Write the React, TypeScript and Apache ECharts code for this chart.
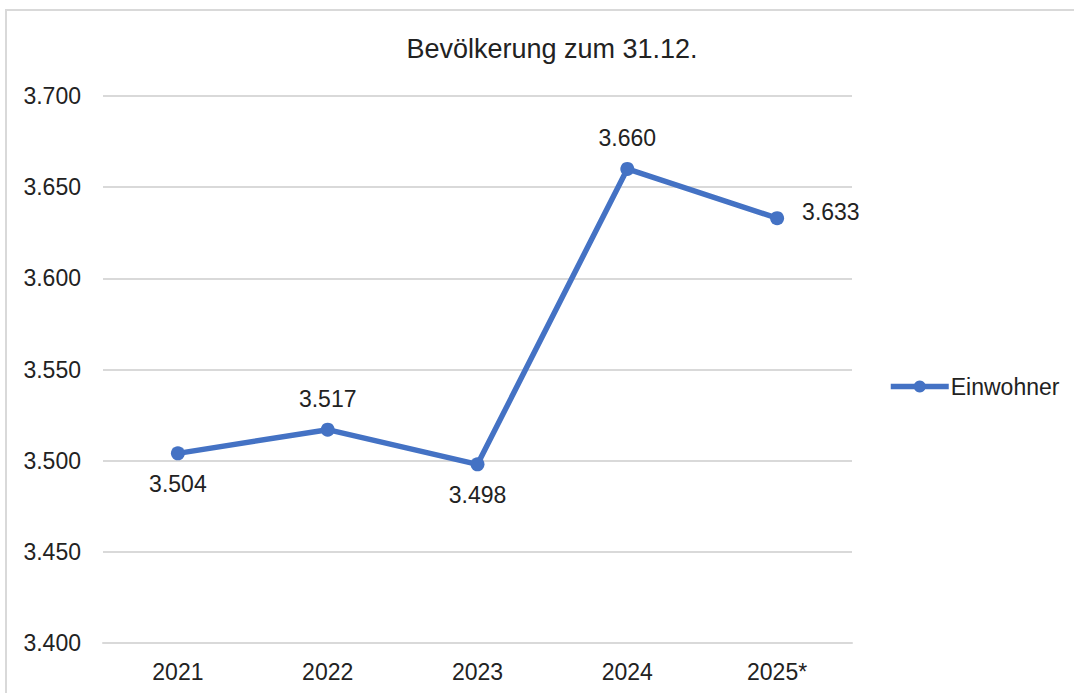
import React, { useEffect, useRef } from "react";
import * as echarts from "echarts";

const categories = ["2021", "2022", "2023", "2024", "2025*"];
const einwohner = [3504, 3517, 3498, 3660, 3633];
const labelPositions = ["bottom", "top", "bottom", "top", "right"];
const yMin = 3400;
const yMax = 3700;
const yInterval = 50;

const fmt = (v: number) => {
  const s = String(Math.round(v));
  return s.replace(/\B(?=(\d{3})+(?!\d))/g, ".");
};

export default function App() {
  const ref = useRef<HTMLDivElement>(null);
  useEffect(() => {
    if (!ref.current) return;
    const chart = echarts.init(ref.current, null, { renderer: "svg" });
    const font = "'Liberation Sans', Arial, sans-serif";
    const textColor = "#222222";
    chart.setOption({
      animation: false,
      backgroundColor: "#ffffff",
      textStyle: { fontFamily: font },
      title: {
        text: "Bevölkerung zum 31.12.",
        left: 547,
        top: 30,
        textAlign: "center",
        textStyle: { fontFamily: font, fontSize: 27, fontWeight: "normal", color: textColor },
      },
      graphic: [
        {
          type: "rect",
          shape: { x: 6, y: 10, width: 1200, height: 800 },
          style: { fill: "none", stroke: "#d9d9d9", lineWidth: 2 },
          silent: true,
        },
      ],
      legend: {
        left: 883,
        top: 370,
        itemWidth: 58,
        itemHeight: 15,
        itemGap: 4,
        itemStyle: { color: "#4472C4" },
        lineStyle: { color: "#4472C4", width: 5.5 },
        textStyle: { fontFamily: font, fontSize: 23, color: textColor, padding: [0, 0, 0, -3] },
        data: ["Einwohner"],
      },
      grid: { left: 103, right: 222, top: 96, bottom: 50, containLabel: false },
      xAxis: {
        type: "category",
        data: categories,
        boundaryGap: true,
        axisLine: { show: true, lineStyle: { color: "#d9d9d9", width: 2 } },
        axisTick: { show: false },
        axisLabel: { fontFamily: font, fontSize: 23, color: textColor, margin: 17 },
      },
      yAxis: {
        type: "value",
        min: yMin,
        max: yMax,
        interval: yInterval,
        axisLine: { show: false },
        axisTick: { show: false },
        splitLine: { lineStyle: { color: "#d9d9d9", width: 2 } },
        axisLabel: {
          fontFamily: font,
          fontSize: 23,
          color: textColor,
          margin: 22,
          formatter: (v: number) => fmt(v),
        },
      },
      series: [
        {
          name: "Einwohner",
          type: "line",
          data: einwohner.map((v, i) => ({
            value: v,
            label: {
              position: labelPositions[i],
              distance: labelPositions[i] === "right" ? 18 : 12,
              offset: labelPositions[i] === "right" ? [0, -6] : [0, 0],
            },
          })),
          symbol: "circle",
          symbolSize: 14,
          lineStyle: { color: "#4472C4", width: 5.5 },
          itemStyle: { color: "#4472C4" },
          label: {
            show: true,
            fontFamily: font,
            fontSize: 23,
            color: textColor,
            formatter: (p: any) => fmt(p.value),
          },
        },
      ],
    });
    return () => chart.dispose();
  }, []);
  return (
    <div
      ref={ref}
      style={{ position: "absolute", left: 0, top: 0, width: 1074, height: 693 }}
    />
  );
}
